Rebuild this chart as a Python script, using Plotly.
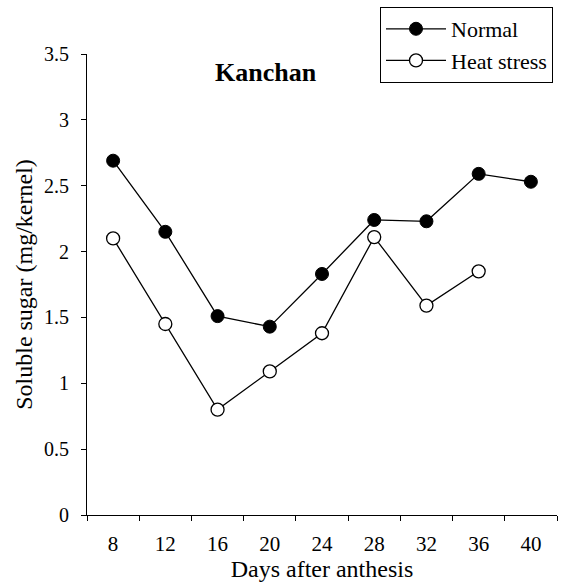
import plotly.graph_objects as go

days = ["8", "12", "16", "20", "24", "28", "32", "36", "40"]
normal = [2.69, 2.15, 1.51, 1.43, 1.83, 2.24, 2.23, 2.59, 2.53]
heat_days = ["8", "12", "16", "20", "24", "28", "32", "36"]
heat = [2.10, 1.45, 0.80, 1.09, 1.38, 2.11, 1.59, 1.85]
y_ticks = [0, 0.5, 1, 1.5, 2, 2.5, 3, 3.5]
y_tick_text = ["0", "0.5", "1", "1.5", "2", "2.5", "3", "3.5"]

FONT = "Liberation Serif"

fig = go.Figure()
fig.add_trace(go.Scatter(
    x=days, y=normal, mode="lines+markers", name="Normal",
    line=dict(color="black", width=1.3),
    marker=dict(symbol="circle", size=13, color="black", line=dict(color="black", width=1)),
))
fig.add_trace(go.Scatter(
    x=heat_days, y=heat, mode="lines+markers", name="Heat stress",
    line=dict(color="black", width=1.3),
    marker=dict(symbol="circle", size=13, color="white", line=dict(color="black", width=1.3)),
))

fig.update_layout(
    width=563, height=584,
    margin=dict(l=87, r=6, t=54, b=69),
    paper_bgcolor="white", plot_bgcolor="white",
    font=dict(family=FONT, color="black", size=19),
    showlegend=True,
    legend=dict(
        x=0.9915, y=1.102, xanchor="right", yanchor="top",
        bordercolor="black", borderwidth=1, bgcolor="white",
        font=dict(family=FONT, size=22, color="black"),
        tracegroupgap=0, itemwidth=60,
    ),
    annotations=[dict(
        text="<b>Kanchan</b>", x=0.38, y=0.959, xref="paper", yref="paper",
        xanchor="center", yanchor="middle",
        showarrow=False, font=dict(family=FONT, size=26, color="black"),
    )],
)
fig.update_xaxes(
    type="category", categoryorder="array", categoryarray=days,
    range=[-0.5, 8.5], tickson="boundaries",
    ticks="outside", ticklen=5, tickcolor="black", tickwidth=1,
    showline=True, linecolor="black", linewidth=1, showgrid=False, zeroline=False,
    title=dict(text="Days after anthesis", font=dict(family=FONT, size=24), standoff=4),
    tickfont=dict(family=FONT, size=21), ticklabelstandoff=10,
)
fig.update_yaxes(
    range=[0, 3.5], tickvals=y_ticks, ticktext=y_tick_text,
    ticks="outside", ticklen=5, tickcolor="black", tickwidth=1,
    showline=True, linecolor="black", linewidth=1, showgrid=False, zeroline=False,
    title=dict(text="Soluble sugar (mg/kernel)", font=dict(family=FONT, size=24), standoff=4),
    tickfont=dict(family=FONT, size=20), ticklabelstandoff=8,
)

fig.write_html("out.html")
